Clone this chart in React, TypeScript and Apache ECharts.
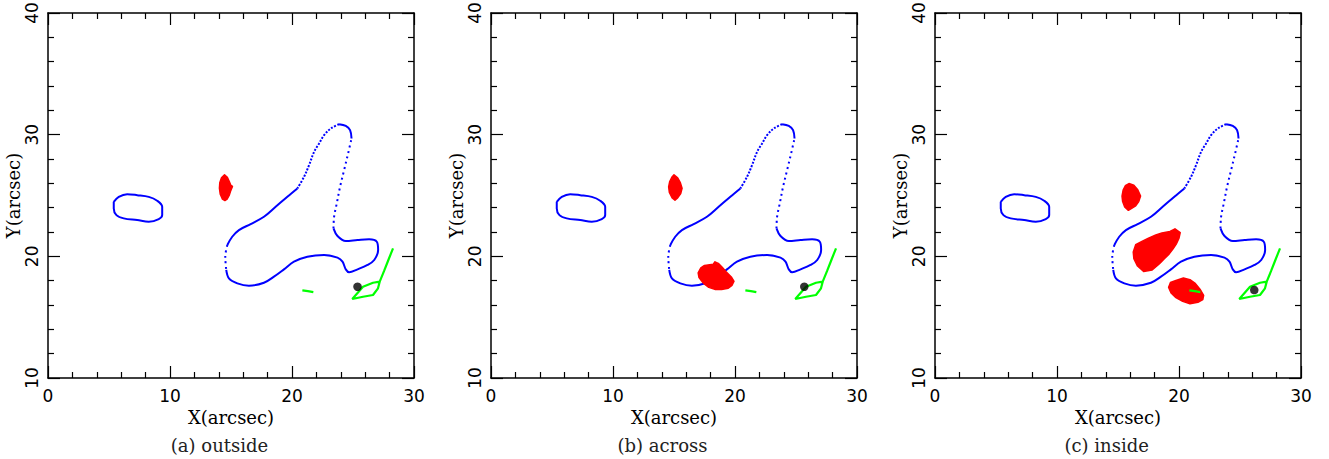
import { useEffect, useRef } from "react";
import * as echarts from "echarts";

// ---------- data (arcsec) ----------
const xRange = [0, 30];
const yRange = [10, 40];
const captions = ["(a) outside", "(b) across", "(c) inside"];

// small closed blue contour on the left
const ellipseContour = [
  [5.39, 24.48], [5.8, 24.89], [6.49, 25.11], [7.31, 25.03], [8.26, 24.89], [8.95, 24.57],
  [9.36, 24.07], [9.36, 23.39], [9.08, 23.06], [8.26, 22.84], [7.31, 22.98], [6.21, 23.12],
  [5.61, 23.39], [5.39, 23.94], [5.39, 24.48],
];

// main blue contour, split where its dots are sparse
const upperStalk = [
  [23.86, 30.86], [23.18, 30.51], [22.63, 29.96], [22.22, 29.28], [21.81, 28.59],
  [21.4, 27.5], [20.99, 26.54], [20.44, 25.58],
];
const upperLeftEdge = [
  [20.44, 25.58], [19.62, 24.9], [18.66, 24.07], [17.7, 23.25], [16.61, 22.65],
  [15.65, 22.16], [15.1, 21.61], [14.7, 20.93],
];
const leftSide = [[14.7, 20.93], [14.53, 19.97], [14.61, 18.88]];
const lowerEdge = [
  [14.61, 18.88], [14.83, 18.19], [15.52, 17.78], [16.47, 17.59], [17.7, 17.83],
  [18.52, 18.33], [19.34, 18.93], [20.16, 19.56], [21.26, 19.97], [22.63, 20.11],
  [23.73, 19.89], [24.14, 19.56], [24.41, 18.93], [24.68, 18.69], [25.37, 18.93],
  [26.19, 19.29], [26.74, 19.7], [27.06, 20.52], [26.95, 21.2], [26.32, 21.4],
  [25.37, 21.34], [24.41, 21.26], [23.73, 21.67], [23.4, 22.3],
];
const rightStalk = [
  [23.4, 22.3], [23.45, 23.25], [23.67, 24.35], [23.94, 25.72], [24.27, 27.09],
  [24.6, 28.46], [24.88, 29.69],
];
const topCap = [[24.88, 29.69], [24.76, 30.37], [24.41, 30.72], [23.86, 30.86]];

// green features (same in all panels)
const greenSegment = [[20.85, 17.2], [21.3, 17.14], [21.75, 17.06]];
const greenEye = [
  [28.28, 20.66], [27.9, 19.7], [27.55, 18.8], [27.19, 17.92], [26.64, 17.83],
  [25.82, 17.5], [24.94, 16.49], [25.82, 16.68], [26.64, 16.82], [27.05, 17.37], [27.19, 17.92],
];

// red blobs
const blobA1 = [
  [14.47, 26.7], [14.7, 26.5], [14.88, 26.1], [14.98, 25.85], [15.12, 25.75], [14.98, 25.4],
  [14.85, 25.0], [14.68, 24.7], [14.5, 24.58], [14.3, 24.7], [14.12, 25.1], [14.05, 25.6],
  [14.08, 26.05], [14.22, 26.45],
];
const blobB1 = [
  [15.0, 26.7], [15.3, 26.45], [15.52, 26.05], [15.66, 25.6], [15.55, 25.15], [15.3, 24.8],
  [15.08, 24.62], [14.85, 24.8], [14.62, 25.25], [14.56, 25.7], [14.65, 26.15], [14.82, 26.5],
];
const blobB2 = [
  [16.98, 18.65], [17.2, 19.05], [17.5, 19.25], [18.22, 19.36], [18.36, 19.55], [18.63, 19.42],
  [18.95, 19.1], [19.25, 18.75], [19.7, 18.3], [19.92, 17.95], [19.75, 17.62], [19.45, 17.38],
  [18.9, 17.28], [18.4, 17.28], [17.85, 17.45], [17.4, 17.8], [17.05, 18.25],
];
const blobC1 = [
  [15.9, 25.98], [16.3, 25.85], [16.6, 25.5], [16.85, 24.95], [16.7, 24.5], [16.45, 24.15],
  [15.85, 23.78], [15.55, 24.05], [15.38, 24.5], [15.33, 24.95], [15.42, 25.45], [15.6, 25.8],
];
const blobC2 = [
  [19.67, 22.26], [20.1, 21.95], [20.0, 21.5], [19.8, 21.05], [19.5, 20.6], [19.2, 20.2],
  [18.8, 19.8], [18.4, 19.4], [17.8, 18.88], [17.1, 18.75], [16.6, 19.2], [16.3, 19.8],
  [16.25, 20.35], [16.45, 20.95], [17.0, 21.25], [17.5, 21.5], [18.1, 21.75], [18.6, 21.92],
  [19.26, 22.05],
];
const blobC3 = [
  [19.75, 18.02], [20.36, 18.22], [20.9, 18.08], [21.3, 17.8], [21.72, 17.3], [22.02, 16.8],
  [21.95, 16.45], [21.55, 16.22], [20.9, 16.1], [20.3, 16.3], [19.75, 16.6], [19.35, 16.98],
  [19.15, 17.45], [19.3, 17.85],
];

// black dot positions
const blackDots = [[25.37, 17.5], [25.68, 17.5], [26.17, 17.23]];
const panelBlobs = [[blobA1], [blobB1, blobB2], [blobC1, blobC2, blobC3]];

// ---------- layout ----------
const gridLefts = [48, 491, 935];
const gridWidth = 366;
const gridTop = 13;
const gridHeight = 365;
const captionX = [219.5, 662.5, 1106.7];
const captionY = 445;

const BLACK = "#000";
const tickFont = { color: BLACK, fontFamily: "DejaVu Sans", fontSize: 17 };
const nameFont = { color: BLACK, fontFamily: "DejaVu Serif", fontSize: 18 };

function axisCommon(min: number, max: number) {
  return {
    type: "value" as const,
    min,
    max,
    interval: 10,
    axisLine: { show: true, onZero: false, lineStyle: { color: BLACK, width: 1.5 } },
    axisTick: { show: true, inside: true, length: 12, lineStyle: { color: BLACK, width: 1.2 } },
    minorTick: { show: true, splitNumber: 5, length: 6, lineStyle: { color: BLACK, width: 1.2 } },
    splitLine: { show: false },
    minorSplitLine: { show: false },
  };
}

export default function App() {
  const ref = useRef<HTMLDivElement>(null);
  useEffect(() => {
    if (!ref.current) return;
    const chart = echarts.init(ref.current, null, { renderer: "svg" });
    const grid: any[] = [];
    const xAxis: any[] = [];
    const yAxis: any[] = [];
    const series: any[] = [];
    const graphic: any[] = [];

    for (let i = 0; i < 3; i++) {
      grid.push({
        left: gridLefts[i],
        top: gridTop,
        width: gridWidth,
        height: gridHeight,
        containLabel: false,
        outerBoundsMode: "none",
      });
      xAxis.push({
        ...axisCommon(xRange[0], xRange[1]),
        gridIndex: i,
        position: "bottom",
        axisLabel: { show: true, margin: 9, ...tickFont },
        name: "X(arcsec)",
        nameLocation: "middle",
        nameGap: 26,
        nameTextStyle: nameFont,
      });
      xAxis.push({
        ...axisCommon(xRange[0], xRange[1]),
        gridIndex: i,
        position: "top",
        axisLabel: { show: false },
      });
      yAxis.push({
        ...axisCommon(yRange[0], yRange[1]),
        gridIndex: i,
        position: "left",
        axisLabel: { show: true, rotate: 90, margin: 8, ...tickFont },
        name: "Y(arcsec)",
        nameLocation: "middle",
        nameGap: 21,
        nameTextStyle: nameFont,
      });
      yAxis.push({
        ...axisCommon(yRange[0], yRange[1]),
        gridIndex: i,
        position: "right",
        axisLabel: { show: false },
      });

      const xi = i * 2;
      const yi = i * 2;
      const blueLine = (data: number[][], type: any, z = 2) => ({
        type: "line",
        xAxisIndex: xi,
        yAxisIndex: yi,
        data,
        smooth: 0.35,
        symbol: "none",
        silent: true,
        z,
        lineStyle: { color: "#0000ff", width: 2, type, cap: "butt" },
      });
      series.push(blueLine(ellipseContour, "solid"));
      series.push(blueLine(upperStalk, [2, 1.5]));
      series.push(blueLine(upperLeftEdge, "solid"));
      series.push(blueLine(leftSide, [2, 3.5]));
      series.push(blueLine(lowerEdge, "solid"));
      series.push(blueLine(rightStalk, [2, 3.5]));
      series.push(blueLine(topCap, "solid"));

      panelBlobs[i].forEach((blob) => {
        series.push({
          type: "custom",
          xAxisIndex: xi,
          yAxisIndex: yi,
          data: blob,
          silent: true,
          z: 3,
          renderItem: (params: any, api: any) => {
            if (params.dataIndex !== 0) return { type: "group", children: [] };
            return {
              type: "polygon",
              shape: { points: blob.map((p) => api.coord(p)) },
              style: { fill: "#ff0000", stroke: "#ff0000", lineWidth: 1.5, lineJoin: "round" },
            };
          },
        });
      });

      const greenLine = (data: number[][]) => ({
        type: "line",
        xAxisIndex: xi,
        yAxisIndex: yi,
        data,
        symbol: "none",
        silent: true,
        z: 4,
        lineStyle: { color: "#00ff00", width: 2.2 },
      });
      series.push(greenLine(greenSegment));
      series.push(greenLine(greenEye));

      series.push({
        type: "scatter",
        xAxisIndex: xi,
        yAxisIndex: yi,
        data: [blackDots[i]],
        symbol: "circle",
        symbolSize: 8.5,
        silent: true,
        z: 5,
        itemStyle: { color: BLACK },
      });

      graphic.push({
        type: "text",
        x: captionX[i],
        y: captionY,
        style: {
          text: captions[i],
          fill: "#222",
          font: "18px 'DejaVu Serif'",
          textAlign: "center",
          textVerticalAlign: "middle",
        },
      });
    }

    chart.setOption({
      animation: false,
      backgroundColor: "#fff",
      grid,
      xAxis,
      yAxis,
      series,
      graphic,
    });
    return () => chart.dispose();
  }, []);

  return (
    <div
      ref={ref}
      style={{ position: "fixed", left: 0, top: 0, width: 1329, height: 459, background: "#fff" }}
    />
  );
}
